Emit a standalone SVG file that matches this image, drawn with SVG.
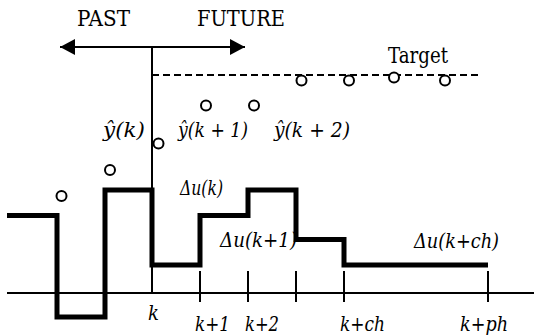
<svg xmlns="http://www.w3.org/2000/svg" width="534" height="336" viewBox="0 0 534 336">
<defs>
<style>
.ln{stroke:#000;fill:none;stroke-width:2}
.step{stroke:#000;fill:none;stroke-width:5;stroke-linejoin:miter;stroke-linecap:butt}
.dash{stroke:#000;fill:none;stroke-width:2;stroke-dasharray:7 4}
.pt{stroke:#000;fill:#fff;stroke-width:2}
text{fill:#000}
.cap{font-size:22px}
.m{font-size:21px;font-style:italic}
.du{font-size:20px;font-style:italic}
.ax{font-size:20px;font-style:italic}
</style>
<marker id="ah" markerUnits="userSpaceOnUse" markerWidth="16" markerHeight="16" refX="15" refY="8" orient="auto-start-reverse" viewBox="0 0 16 16">
<path d="M0,0 L15,8 L0,16 Z" fill="#000"/>
</marker>
</defs>
<rect width="534" height="336" fill="#fff"/>
<g id="connectors">
<line class="ln" x1="60" y1="47" x2="245" y2="47" marker-start="url(#ah)" marker-end="url(#ah)"/>
<line class="ln" x1="152" y1="47" x2="152" y2="293"/>
<line class="dash" x1="152" y1="75" x2="482" y2="75"/>
<line class="ln" x1="7" y1="293" x2="534" y2="293"/>
<g id="ticks">
<line class="ln" x1="200" y1="271" x2="200" y2="302"/>
<line class="ln" x1="248" y1="271" x2="248" y2="302"/>
<line class="ln" x1="296" y1="271" x2="296" y2="302"/>
<line class="ln" x1="344" y1="271" x2="344" y2="302"/>
<line class="ln" x1="488" y1="271" x2="488" y2="302"/>
</g>
<path id="control" class="step" d="M7,215.5 H57 V317 H105 V190 H152 V265 H200 V215.5 H248 V190 H296 V239.5 H344 V265 H488"/>
</g>
<g id="points">
<circle class="pt" cx="61.5" cy="196" r="5"/>
<circle class="pt" cx="110" cy="170" r="5"/>
<circle class="pt" cx="158.5" cy="143.5" r="5"/>
<circle class="pt" cx="206" cy="105.5" r="5"/>
<circle class="pt" cx="254" cy="105.5" r="5"/>
<circle class="pt" cx="301.5" cy="80.5" r="5"/>
<circle class="pt" cx="349" cy="80.5" r="5"/>
<circle class="pt" cx="394" cy="77.5" r="5"/>
<circle class="pt" cx="445" cy="80.5" r="5"/>
</g>
<g id="labels" font-family="DejaVu Serif, Liberation Serif, serif">
<g id="label-past"><text class="cap" x="77" y="26" textLength="53" lengthAdjust="spacingAndGlyphs">PAST</text></g>
<g id="label-future"><text class="cap" x="197" y="26" textLength="88" lengthAdjust="spacingAndGlyphs">FUTURE</text></g>
<g id="label-target"><text class="cap" x="388" y="63" textLength="60" lengthAdjust="spacingAndGlyphs">Target</text></g>
<g id="label-yk"><text class="m" x="103" y="137" textLength="42" lengthAdjust="spacingAndGlyphs">ŷ(k)</text></g>
<g id="label-yk1"><text class="m" x="178" y="137" textLength="70" lengthAdjust="spacingAndGlyphs">ŷ(k + 1)</text></g>
<g id="label-yk2"><text class="m" x="274" y="137" textLength="76" lengthAdjust="spacingAndGlyphs">ŷ(k + 2)</text></g>
<g id="label-duk"><text class="du" x="180" y="195" textLength="43" lengthAdjust="spacingAndGlyphs">Δu(k)</text></g>
<g id="label-duk1"><text class="du" x="220" y="247" textLength="77" lengthAdjust="spacingAndGlyphs">Δu(k+1)</text></g>
<g id="label-dukch"><text class="du" x="414" y="248" textLength="85" lengthAdjust="spacingAndGlyphs">Δu(k+ch)</text></g>
<g id="axis-labels">
<text class="ax" x="148" y="320" textLength="11" lengthAdjust="spacingAndGlyphs">k</text>
<text class="ax" x="195" y="331" textLength="35" lengthAdjust="spacingAndGlyphs">k+1</text>
<text class="ax" x="245" y="331" textLength="34" lengthAdjust="spacingAndGlyphs">k+2</text>
<text class="ax" x="340" y="331" textLength="45" lengthAdjust="spacingAndGlyphs">k+ch</text>
<text class="ax" x="460" y="331" textLength="48" lengthAdjust="spacingAndGlyphs">k+ph</text>
</g>
</g>
</svg>
